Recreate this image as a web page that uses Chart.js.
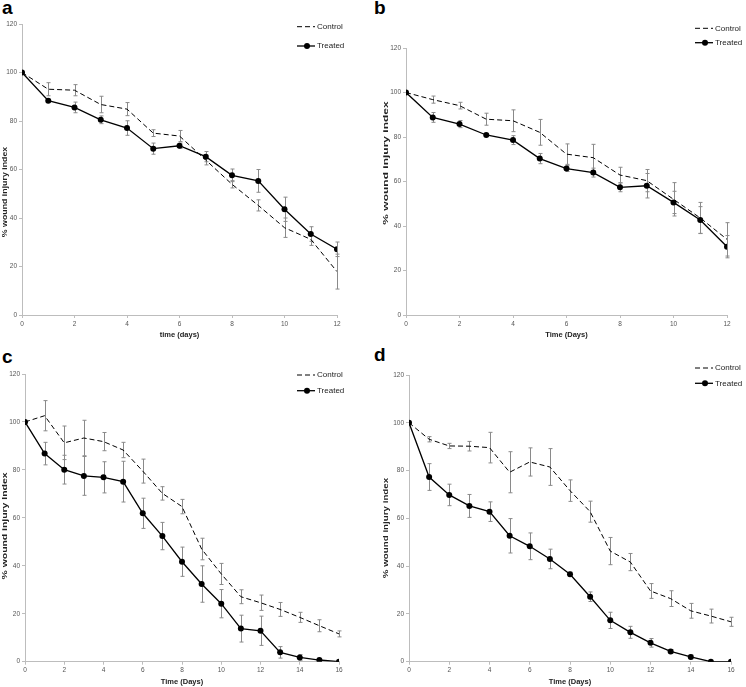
<!DOCTYPE html>
<html lang="en">
<head>
<meta charset="UTF-8">
<title>Wound injury index</title>
<script src="https://cdn.jsdelivr.net/npm/chart.js"></script>
<style>
  body { margin: 0; width: 746px; height: 687px; position: relative; background: #fff; overflow: hidden; }
  canvas { position: absolute; }
  .lbl { position: absolute; font: bold 19px "Liberation Sans", Arial, sans-serif; color: #000; line-height: 1; }
</style>
</head>
<body>
<div class="lbl" style="left:2px;top:-2px">a</div>
<div class="lbl" style="left:374px;top:-2px">b</div>
<div class="lbl" style="left:2px;top:347px">c</div>
<div class="lbl" style="left:374px;top:345px">d</div>
<canvas id="chartA" width="373" height="340" style="left:0;top:0"></canvas>
<canvas id="chartB" width="373" height="340" style="left:373px;top:0"></canvas>
<canvas id="chartC" width="373" height="347" style="left:0;top:340px"></canvas>
<canvas id="chartD" width="373" height="347" style="left:373px;top:340px"></canvas>

<script>
// days of measurement
var days12 = [0, 1, 2, 3, 4, 5, 6, 7, 8, 9, 10, 11, 12];
var days16 = [0, 1, 2, 3, 4, 5, 6, 7, 8, 9, 10, 11, 12, 13, 14, 15, 16];
var yTicks = [0, 20, 40, 60, 80, 100, 120];

// panel a
var controlA    = [100, 93.1, 92.7, 86.8, 84.9, 75.0, 73.8, 63.9, 53.9, 45.2, 36.0, 31.2, 17.9];
var controlAErr = [0, 2.7, 2.3, 3.4, 2.7, 1.4, 2.3, 2.0, 1.5, 2.3, 4.0, 2.5, 7.2];
var treatedA    = [100, 88.4, 85.6, 80.5, 77.1, 68.6, 69.8, 65.3, 57.6, 55.3, 43.6, 33.4, 27.1];
var treatedAErr = [0, 0.6, 2.2, 1.6, 3.0, 2.3, 1.1, 2.1, 2.6, 4.7, 5.0, 3.0, 3.0];

// panel b
var controlB    = [100, 96.8, 94.1, 88.0, 87.3, 82.1, 72.3, 70.7, 62.9, 60.4, 52.0, 43.6, 34.0];
var controlBErr = [0, 1.6, 1.5, 2.7, 4.9, 5.8, 4.6, 6.0, 3.5, 5.0, 7.5, 7.0, 7.5];
var treatedB    = [100, 88.8, 85.8, 80.9, 78.6, 70.3, 65.8, 64.0, 57.4, 58.1, 50.6, 42.7, 30.7];
var treatedBErr = [0, 2.2, 1.6, 0.6, 2.0, 2.3, 1.3, 2.0, 2.0, 5.5, 5.0, 6.0, 5.0];

// panel c
var controlC    = [100, 102.6, 91.3, 93.3, 91.8, 88.3, 79.5, 70.2, 64.7, 47.0, 36.6, 27.1, 24.6, 21.8, 18.5, 15.0, 11.6];
var controlCErr = [0, 6.3, 7.0, 7.4, 3.8, 3.2, 5.0, 2.8, 3.0, 4.5, 4.4, 2.9, 3.2, 2.9, 2.1, 2.5, 1.25];
var treatedC    = [100, 86.8, 80.1, 77.5, 76.9, 75.1, 61.9, 52.4, 41.7, 32.4, 24.2, 13.8, 12.9, 3.9, 1.8, 0.7, 0];
var treatedCErr = [0, 4.7, 6.0, 8.1, 6.5, 8.5, 6.3, 5.7, 6.1, 7.6, 5.9, 5.6, 6.1, 2.4, 1.2, 0.3, 0];

// panel d
var controlD    = [100, 93.1, 90.3, 90.2, 89.6, 79.3, 83.6, 81.5, 71.6, 62.8, 46.3, 41.7, 29.6, 26.4, 21.3, 19.1, 16.7];
var controlDErr = [0, 1.1, 1.1, 2.0, 6.4, 8.6, 5.9, 7.7, 4.5, 4.4, 5.7, 3.6, 3.1, 3.3, 3.1, 2.9, 1.9];
var treatedD    = [100, 77.3, 69.8, 65.2, 62.8, 52.7, 48.3, 43.0, 36.6, 27.2, 17.3, 12.3, 7.9, 4.3, 2.0, 0, 0];
var treatedDErr = [0, 5.6, 4.5, 4.8, 4.1, 7.2, 5.6, 4.1, 0.9, 2.0, 3.4, 2.5, 1.8, 0.8, 0.8, 0, 0];

var FONT = '"Liberation Sans", Arial, sans-serif';

// vertical error bars, drawn under the lines
var errorBars = {
  id: 'errorBars',
  beforeDatasetsDraw: function(chart) {
    var ctx = chart.ctx, xs = chart.scales.x, ys = chart.scales.y;
    ctx.save();
    ctx.strokeStyle = '#8a8a8a';
    ctx.lineWidth = 1;
    chart.data.datasets.forEach(function(ds) {
      (ds.errors || []).forEach(function(e, i) {
        if (!e) return;
        var p = ds.data[i];
        var x = Math.round(xs.getPixelForValue(p.x)) + 0.5;
        var top = ys.getPixelForValue(p.y + e), bot = ys.getPixelForValue(p.y - e);
        ctx.beginPath();
        ctx.moveTo(x, top); ctx.lineTo(x, bot);
        ctx.moveTo(x - 2, top); ctx.lineTo(x + 2, top);
        ctx.moveTo(x - 2, bot); ctx.lineTo(x + 2, bot);
        ctx.stroke();
      });
    });
    ctx.restore();
  }
};

// small legend in the top right corner
var cornerLegend = {
  id: 'cornerLegend',
  afterDraw: function(chart, args, opts) {
    var ctx = chart.ctx;
    ctx.save();
    ctx.font = '8px ' + FONT;
    ctx.textBaseline = 'middle';
    chart.data.datasets.forEach(function(ds, i) {
      var y = opts.y[i];
      ctx.strokeStyle = '#000';
      ctx.lineWidth = ds.borderWidth;
      ctx.setLineDash(ds.borderDash || []);
      ctx.beginPath();
      ctx.moveTo(opts.x, y); ctx.lineTo(opts.x + 18, y);
      ctx.stroke();
      ctx.setLineDash([]);
      if (ds.pointRadius > 0) {
        ctx.fillStyle = '#000';
        ctx.beginPath();
        ctx.arc(opts.x + 10, y, 3, 0, Math.PI * 2);
        ctx.fill();
      }
      ctx.fillStyle = '#222';
      ctx.fillText(ds.label, opts.x + 20, y);
    });
    ctx.restore();
  }
};

// rotated y-axis title, placed like the original figure
var yTitle = {
  id: 'yTitle',
  afterDraw: function(chart, args, opts) {
    var ctx = chart.ctx;
    ctx.save();
    ctx.translate(opts.x, opts.y);
    ctx.rotate(-Math.PI / 2);
    ctx.scale(opts.stretch, 1);
    ctx.font = 'bold 8px ' + FONT;
    ctx.fillStyle = '#222';
    ctx.textAlign = 'center';
    ctx.textBaseline = 'middle';
    ctx.fillText(opts.text, 0, 0);
    ctx.restore();
  }
};

function pts(xs, ys) {
  return xs.map(function(x, i) { return { x: x, y: ys[i] }; });
}

function makeChart(id, days, control, controlErr, treated, treatedErr, xTitle, yText, lay) {
  return new Chart(document.getElementById(id), {
    type: 'line',
    data: {
      datasets: [{
        label: 'Control',
        data: pts(days, control),
        errors: controlErr,
        borderColor: '#000',
        borderWidth: 1,
        borderDash: [5, 3],
        pointRadius: 0,
        fill: false
      }, {
        label: 'Treated',
        data: pts(days, treated),
        errors: treatedErr,
        borderColor: '#000',
        borderWidth: 1.3,
        pointRadius: 3,
        pointBorderWidth: 0,
        pointBackgroundColor: '#000',
        pointBorderColor: '#000',
        fill: false
      }]
    },
    options: {
      responsive: false,
      animation: false,
      layout: { padding: { left: lay.left, top: lay.top, right: lay.right, bottom: lay.bottom } },
      plugins: {
        legend: { display: false },
        tooltip: { enabled: false },
        cornerLegend: { x: lay.legX, y: lay.legY },
        yTitle: { text: yText, x: lay.tx, y: lay.ty, stretch: lay.ts }
      },
      scales: {
        x: {
          type: 'linear',
          min: 0,
          max: days[days.length - 1],
          afterFit: function(s) { s.height = lay.xh; },
          ticks: { stepSize: 2, color: '#555', font: { family: FONT, size: 6.5 }, padding: 2, maxRotation: 0 },
          grid: { drawOnChartArea: false, tickLength: 3, color: '#bdbdbd' },
          border: { color: '#bdbdbd' },
          title: { display: true, text: xTitle, color: '#222', font: { family: FONT, size: 7.5, weight: 'bold' }, padding: 0 }
        },
        y: {
          min: 0,
          max: 120,
          afterFit: function(s) { s.width = lay.yw; },
          afterBuildTicks: function(s) { s.ticks = yTicks.map(function(v) { return { value: v }; }); },
          ticks: { color: '#555', font: { family: FONT, size: 6.5 }, padding: 2 },
          grid: { drawOnChartArea: false, tickLength: 3, color: '#bdbdbd' },
          border: { color: '#bdbdbd' }
        }
      }
    },
    plugins: [errorBars, cornerLegend, yTitle]
  });
}

makeChart('chartA', days12, controlA, controlAErr, treatedA, treatedAErr,
  'time (days)', '% wound injury index',
  { left: 1, top: 24, right: 36, bottom: 1, xh: 24, yw: 21, legX: 297, legY: [26.7, 46],
    tx: 5, ty: 192, ts: 1.1 });

makeChart('chartB', days12, controlB, controlBErr, treatedB, treatedBErr,
  'Time (Days)', '% wound injury index',
  { left: 9, top: 48, right: 19, bottom: 1, xh: 24, yw: 24, legX: 322, legY: [28.3, 42.7],
    tx: 13, ty: 163, ts: 1.5 });

makeChart('chartC', days16, controlC, controlCErr, treatedC, treatedCErr,
  'Time (Days)', '% wound injury Index',
  { left: 1, top: 34, right: 34, bottom: 1, xh: 24.3, yw: 24, legX: 297, legY: [35, 50.7],
    tx: 5, ty: 186, ts: 1.3 });

makeChart('chartD', days16, controlD, controlDErr, treatedD, treatedDErr,
  'Time (Days)', '% wound injury index',
  { left: 9, top: 35, right: 15, bottom: 1, xh: 24.3, yw: 27, legX: 322, legY: [28, 43.3],
    tx: 13, ty: 188, ts: 1.22 });
</script>
</body>
</html>
